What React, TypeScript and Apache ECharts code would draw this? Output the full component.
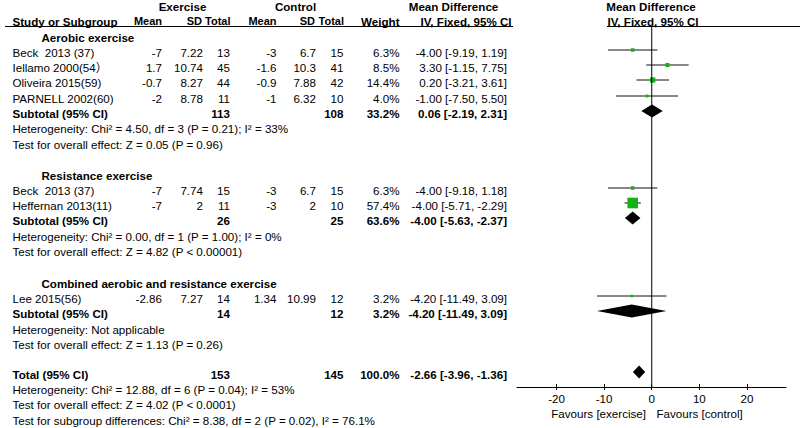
import React, { useEffect, useRef } from "react";
import * as echarts from "echarts";

// ---------- data ----------
const studies = ["Beck  2013 (37)", "Iellamo 2000(54）", "Oliveira 2015(59)", "PARNELL 2002(60)", "Beck  2013 (37)", "Heffernan 2013(11)", "Lee 2015(56)"];
const exMean = [-7, 1.7, -0.7, -2, -7, -7, -2.86];
const exSD = [7.22, 10.74, 8.27, 8.78, 7.74, 2, 7.27];
const exN = [13, 45, 44, 11, 15, 11, 14];
const ctMean = [-3, -1.6, -0.9, -1, -3, -3, 1.34];
const ctSD = [6.7, 10.3, 7.88, 6.32, 6.7, 2, 10.99];
const ctN = [15, 41, 42, 10, 15, 10, 12];
const weight = [6.3, 8.5, 14.4, 4.0, 6.3, 57.4, 3.2];
const md = [-4.0, 3.3, 0.2, -1.0, -4.0, -4.0, -4.2];
const lo = [-9.19, -1.15, -3.21, -7.5, -9.18, -5.71, -11.49];
const hi = [1.19, 7.75, 3.61, 5.5, 1.18, -2.29, 3.09];

const groupNames = ["Aerobic exercise", "Resistance exercise", "Combined aerobic and resistance exercise"];
const subExN = [113, 26, 14];
const subCtN = [108, 25, 12];
const subWeight = [33.2, 63.6, 3.2];
const subMd = [0.06, -4.0, -4.2];
const subLo = [-2.19, -5.63, -11.49];
const subHi = [2.31, -2.37, 3.09];
const hetText = [
  "Heterogeneity: Chi² = 4.50, df = 3 (P = 0.21); I² = 33%",
  "Heterogeneity: Chi² = 0.00, df = 1 (P = 1.00); I² = 0%",
  "Heterogeneity: Not applicable",
];
const effectText = [
  "Test for overall effect: Z = 0.05 (P = 0.96)",
  "Test for overall effect: Z = 4.82 (P < 0.00001)",
  "Test for overall effect: Z = 1.13 (P = 0.26)",
];
const totalExN = 153;
const totalCtN = 145;
const totalWeight = 100.0;
const totalMd = -2.66;
const totalLo = -3.96;
const totalHi = -1.36;
const totalNotes = [
  "Heterogeneity: Chi² = 12.88, df = 6 (P = 0.04); I² = 53%",
  "Test for overall effect: Z = 4.02 (P < 0.0001)",
  "Test for subgroup differences: Chi² = 8.38, df = 2 (P = 0.02), I² = 76.1%",
];
const tickValues = [-20, -10, 0, 10, 20];
const favoursLeft = "Favours [exercise]";
const favoursRight = "Favours [control]";

// ---------- layout (pixel rows / columns) ----------
const studyY = [52, 67, 82, 98, 190, 205, 298];
const groupTitleY = [37, 175, 283];
const subY = [113, 220, 313];
const hetY = [128, 236, 329];
const effY = [144, 251, 344];
const totalY = 374;
const totalNoteY = [389, 404, 420];
const MARK_DY = -2;
const COL = { name: 12.5, indent: 41.5, exM: 162, exS: 203, exT: 230, ctM: 276.5, ctS: 316, ctT: 343.5, w: 399.5, md: 507 };
const FONT = 'Arial, "Liberation Sans", "Noto Sans CJK SC", sans-serif';
const FS = 11.6;

const fmtCI = (m: number, l: number, h: number) => `${m.toFixed(2)} [${l.toFixed(2)}, ${h.toFixed(2)}]`;

function T(text: string, x: number, y: number, align: string = "left", bold = false, size = FS) {
  return {
    type: "text",
    x,
    y,
    silent: true,
    z: 10,
    style: {
      text,
      textAlign: align,
      textVerticalAlign: "middle",
      font: `${bold ? "bold " : ""}${size}px ${FONT}`,
      fill: "#000",
    },
  };
}

export default function App() {
  const ref = useRef<HTMLDivElement>(null);
  useEffect(() => {
    document.body.style.margin = "0";
    const chart = echarts.init(ref.current!, undefined, { renderer: "svg" });

    const g: any[] = [];
    const HS = 11; // header size for column captions
    // headers
    g.push(T("Exercise", 182.5, 6, "center", true));
    g.push(T("Control", 295.5, 6, "center", true));
    g.push(T("Mean Difference", 453.5, 6, "center", true));
    g.push(T("Mean Difference", 651, 6, "center", true));
    g.push(T("Study or Subgroup", COL.name, 21, "left", true));
    g.push(T("Mean", COL.exM, 21, "right", true, HS));
    g.push(T("SD", COL.exS - 1, 21, "right", true, HS));
    g.push(T("Total", COL.exT + 0.5, 21, "right", true, HS));
    g.push(T("Mean", COL.ctM, 21, "right", true, HS));
    g.push(T("SD", COL.ctS - 1, 21, "right", true, HS));
    g.push(T("Total", COL.ctT + 0.5, 21, "right", true, HS));
    g.push(T("Weight", COL.w, 21, "right", true));
    g.push(T("IV, Fixed, 95% CI", 466, 21, "center", true));
    g.push(T("IV, Fixed, 95% CI", 653, 21, "center", true));
    g.push({ type: "line", silent: true, shape: { x1: 5, y1: 26.5, x2: 513, y2: 26.5 }, style: { stroke: "#000", lineWidth: 1 } });
    g.push({ type: "line", silent: true, shape: { x1: 607, y1: 26.5, x2: 800, y2: 26.5 }, style: { stroke: "#000", lineWidth: 1 } });

    // studies
    studies.forEach((s, i) => {
      const y = studyY[i];
      g.push(T(s, COL.name, y));
      g.push(T(String(exMean[i]), COL.exM, y, "right"));
      g.push(T(String(exSD[i]), COL.exS, y, "right"));
      g.push(T(String(exN[i]), COL.exT, y, "right"));
      g.push(T(String(ctMean[i]), COL.ctM, y, "right"));
      g.push(T(String(ctSD[i]), COL.ctS, y, "right"));
      g.push(T(String(ctN[i]), COL.ctT, y, "right"));
      g.push(T(weight[i].toFixed(1) + "%", COL.w, y, "right"));
      g.push(T(fmtCI(md[i], lo[i], hi[i]), COL.md, y, "right"));
    });
    // groups
    groupNames.forEach((name, k) => {
      g.push(T(name, COL.indent, groupTitleY[k], "left", true));
      g.push(T("Subtotal (95% CI)", COL.name, subY[k], "left", true));
      g.push(T(String(subExN[k]), COL.exT, subY[k], "right", true));
      g.push(T(String(subCtN[k]), COL.ctT, subY[k], "right", true));
      g.push(T(subWeight[k].toFixed(1) + "%", COL.w, subY[k], "right", true));
      g.push(T(fmtCI(subMd[k], subLo[k], subHi[k]), COL.md, subY[k], "right", true));
      g.push(T(hetText[k], COL.name, hetY[k]));
      g.push(T(effectText[k], COL.name, effY[k]));
    });
    // total
    g.push(T("Total (95% CI)", COL.name, totalY, "left", true));
    g.push(T(String(totalExN), COL.exT, totalY, "right", true));
    g.push(T(String(totalCtN), COL.ctT, totalY, "right", true));
    g.push(T(totalWeight.toFixed(1) + "%", COL.w, totalY, "right", true));
    g.push(T(fmtCI(totalMd, totalLo, totalHi), COL.md, totalY, "right", true));
    totalNotes.forEach((t, i) => g.push(T(t, COL.name, totalNoteY[i])));
    g.push(T(favoursLeft, 646, 413.5, "right"));
    g.push(T(favoursRight, 656.5, 413.5, "left"));

    const studyData = studies.map((_, i) => [md[i], lo[i], hi[i], studyY[i] + MARK_DY, weight[i]]);
    const diamondData = [
      ...subMd.map((m, k) => [m, subLo[k], subHi[k], subY[k] + MARK_DY]),
      [totalMd, totalLo, totalHi, totalY + MARK_DY],
    ];

    const axisCommon = { type: "value", min: -28.3, max: 28.2, splitLine: { show: false } };

    chart.setOption({
      animation: false,
      grid: { left: 517, right: 14, top: 0, bottom: 41 },
      xAxis: [
        {
          ...axisCommon,
          position: "bottom",
          axisLine: { show: true, onZero: false, lineStyle: { color: "#000", width: 1 } },
          axisTick: { show: true, customValues: tickValues, length: 3, lineStyle: { color: "#000" } },
          axisLabel: { show: true, customValues: tickValues, margin: 6, color: "#000", fontSize: FS, fontFamily: FONT },
        },
        {
          ...axisCommon,
          position: "bottom",
          axisLine: { show: false, onZero: false },
          axisTick: { show: true, inside: true, customValues: tickValues, length: 3, lineStyle: { color: "#000" } },
          axisLabel: { show: false },
        },
      ],
      yAxis: { type: "value", min: 0, max: 387, inverse: true, show: false },
      series: [
        {
          type: "line",
          data: [[0, 26.5], [0, 387]],
          symbol: "none",
          lineStyle: { color: "#000", width: 1 },
          silent: true,
        },
        {
          type: "custom",
          data: studyData,
          encode: { x: [0, 1, 2], y: 3 },
          silent: true,
          renderItem: (_p: any, api: any) => {
            const y = api.value(3);
            const p1 = api.coord([api.value(1), y]);
            const p2 = api.coord([api.value(2), y]);
            const pc = api.coord([api.value(0), y]);
            const s = 1.4 * Math.sqrt(api.value(4));
            return {
              type: "group",
              children: [
                { type: "line", shape: { x1: p1[0], y1: p1[1], x2: p2[0], y2: p2[1] }, style: { stroke: "#111", lineWidth: 1 } },
                { type: "rect", shape: { x: pc[0] - s / 2, y: pc[1] - s / 2, width: s, height: s }, style: { fill: "#12b312" } },
              ],
            };
          },
        },
        {
          type: "custom",
          data: diamondData,
          encode: { x: [0, 1, 2], y: 3 },
          silent: true,
          renderItem: (_p: any, api: any) => {
            const y = api.value(3);
            const pl = api.coord([api.value(1), y]);
            const pr = api.coord([api.value(2), y]);
            const pc = api.coord([api.value(0), y]);
            const h = 6.5;
            return {
              type: "polygon",
              shape: { points: [[pl[0], pl[1]], [pc[0], pc[1] - h], [pr[0], pr[1]], [pc[0], pc[1] + h]] },
              style: { fill: "#000" },
            };
          },
        },
      ],
      graphic: g,
    });
    return () => chart.dispose();
  }, []);
  return <div ref={ref} style={{ width: 800, height: 428 }} />;
}
